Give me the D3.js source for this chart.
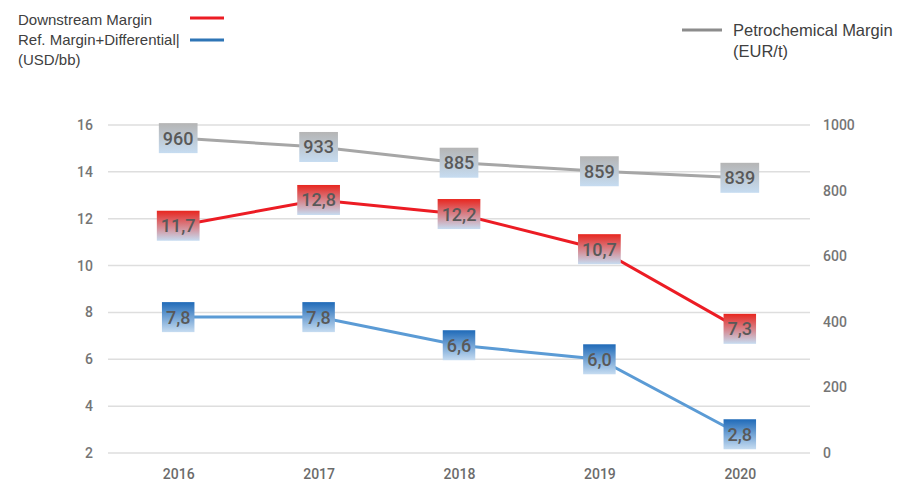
<!DOCTYPE html>
<html><head><meta charset="utf-8">
<script src="https://cdn.jsdelivr.net/npm/d3@7"></script>
<style>body{margin:0;background:#fff}</style>
</head><body>
<svg id="c" width="903" height="482"></svg>
<script>
const years = ["2016","2017","2018","2019","2020"];
const downstream = [11.7,12.8,12.2,10.7,7.3];
const refMargin = [7.8,7.8,6.6,6.0,2.8];
const petro = [960,933,885,859,839];
const leftTicks = [2,4,6,8,10,12,14,16];
const rightTicks = [0,200,400,600,800,1000];

const svg = d3.select("#c");
const L = 108, R = 810, T = 125, B = 453;
const x = d3.scalePoint().domain(years).range([L,R]).padding(0.5);
const yL = d3.scaleLinear().domain([2,16]).range([B,T]);
const yR = d3.scaleLinear().domain([0,1000]).range([B,T]);

const defs = svg.append("defs");
function grad(id, top){
  const g = defs.append("linearGradient").attr("id",id).attr("x1",0).attr("y1",0).attr("x2",0).attr("y2",1);
  g.append("stop").attr("offset","0%").attr("stop-color",top);
  g.append("stop").attr("offset","100%").attr("stop-color","#c6dcf1");
}
grad("gRed","#e8261f");
grad("gBlue","#1f6ab8");
grad("gGray","#b5b5b5");

// gridlines
svg.append("g").selectAll("line").data(leftTicks).join("line")
  .attr("x1",L).attr("x2",R).attr("y1",d=>yL(d)).attr("y2",d=>yL(d))
  .attr("stroke","#dedede").attr("stroke-width",1.5);

const tickFont = "Roboto, 'Liberation Sans', sans-serif";
// left axis
const axL = svg.append("g").attr("transform",`translate(${L},0)`)
  .call(d3.axisLeft(yL).tickValues(leftTicks).tickSize(0).tickPadding(15));
axL.select(".domain").remove();
axL.selectAll("text").attr("font-family",tickFont).attr("font-size",14).attr("font-weight",500).attr("fill","#757575");
// right axis
const axR = svg.append("g").attr("transform",`translate(${R},0)`)
  .call(d3.axisRight(yR).tickValues(rightTicks).tickFormat(d3.format("d")).tickSize(0).tickPadding(13));
axR.select(".domain").remove();
axR.selectAll("text").attr("font-family",tickFont).attr("font-size",14).attr("font-weight",500).attr("fill","#757575");
// x axis
const axX = svg.append("g").attr("transform",`translate(0,${B})`)
  .call(d3.axisBottom(x).tickSize(0).tickPadding(16));
axX.select(".domain").remove();
axX.selectAll("text").attr("font-family",tickFont).attr("font-size",14).attr("font-weight",500).attr("fill","#6b6b6b");

function series(vals, y, color, gradId, fmt){
  const pts = vals.map((v,i)=>[x(years[i]), y(v)]);
  svg.append("path").attr("d", d3.line()(pts)).attr("fill","none")
    .attr("stroke",color).attr("stroke-width",3);
  const g = svg.append("g").selectAll("g").data(vals).join("g")
    .attr("transform",(d,i)=>`translate(${x(years[i])},${y(d)})`);
  const t = g.append("text").text(d=>fmt(d)).attr("text-anchor","middle").attr("dy","0.36em")
    .attr("font-family","Roboto, sans-serif")
    .attr("font-size",18).attr("font-weight",500).attr("fill","#595959");
  t.each(function(){
    const bb = this.getBBox();
    d3.select(this.parentNode).insert("rect","text")
      .attr("x",-bb.width/2-4).attr("y",-15).attr("width",bb.width+8).attr("height",30)
      .attr("fill",`url(#${gradId})`);
  });
}
const fmtC = d=>d.toFixed(1).replace(".",",");
series(petro, yR, "#a6a6a6", "gGray", d=>String(d));
series(downstream, yL, "#ec1c24", "gRed", fmtC);
series(refMargin, yL, "#5b9bd5", "gBlue", fmtC);

// legend
const lf = "'Liberation Sans', Arial, sans-serif";
const lg = svg.append("g").attr("font-family",lf).attr("font-size",15).attr("fill","#404040");
lg.append("text").attr("x",18).attr("y",25).text("Downstream Margin");
lg.append("text").attr("x",18).attr("y",45).text("Ref. Margin+Differential|");
lg.append("text").attr("x",18).attr("y",65).text("(USD/bb)");
lg.append("line").attr("x1",190).attr("x2",224).attr("y1",18).attr("y2",18).attr("stroke","#ec1c24").attr("stroke-width",3);
lg.append("line").attr("x1",190).attr("x2",224).attr("y1",40).attr("y2",40).attr("stroke","#2e75b6").attr("stroke-width",3);
lg.append("line").attr("x1",682).attr("x2",722).attr("y1",30).attr("y2",30).attr("stroke","#8c8c8c").attr("stroke-width",3);
lg.append("text").attr("x",733).attr("y",36).attr("font-size",16.5).text("Petrochemical Margin");
lg.append("text").attr("x",733).attr("y",57).attr("font-size",16.5).text("(EUR/t)");
</script>
</body></html>
